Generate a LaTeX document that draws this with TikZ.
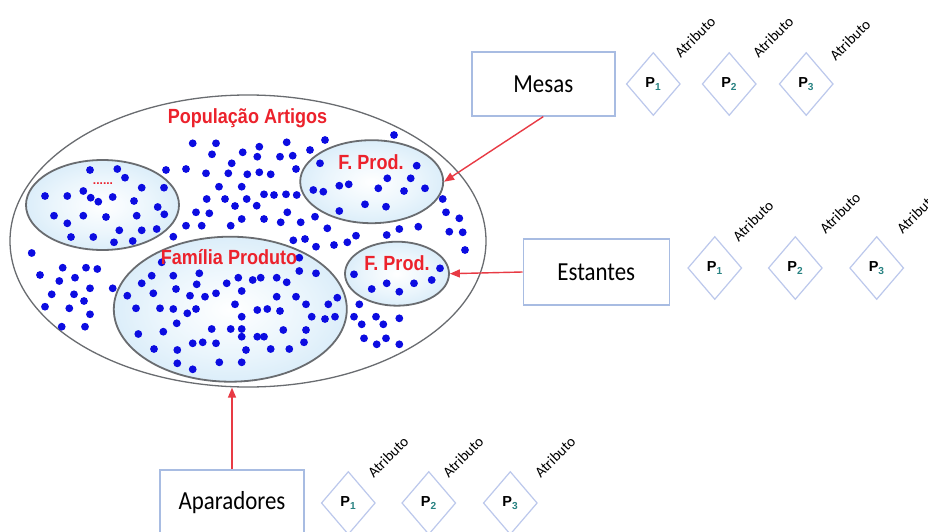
\documentclass[tikz,border=0pt]{standalone}
\usepackage{fontspec}
\setmainfont{Carlito}
\newfontfamily\boxfont[FakeStretch=0.88]{Carlito}
\newfontfamily\labelfont[FakeStretch=0.88]{Liberation Sans}
\newfontfamily\gemfont{Liberation Sans}
\usetikzlibrary{shapes.geometric,arrows.meta}

\definecolor{dotblue}{RGB}{12,12,225}
\definecolor{tagred}{RGB}{236,34,44}
\definecolor{arrowred}{RGB}{232,58,68}
\definecolor{rimgrey}{RGB}{105,108,112}
\definecolor{boxblue}{RGB}{168,188,226}
\definecolor{gemblue}{RGB}{188,200,236}
\definecolor{subteal}{RGB}{40,130,130}
\definecolor{paleblue}{RGB}{234,245,252}
\definecolor{skyblue}{RGB}{180,217,242}
\pgfdeclareradialshading{famshade}{\pgfpoint{0bp}{0bp}}{color(0bp)=(white); color(16bp)=(paleblue); color(50bp)=(skyblue); color(72bp)=(skyblue)}

\newcommand{\pidx}[1]{P\textsubscript{\color{subteal}#1}}

\tikzset{
  popshape/.style={ellipse, draw=rimgrey, line width=1.3pt, inner sep=0pt},
  famshape/.style={ellipse, draw=rimgrey, line width=1.8pt, inner sep=0pt, shade, shading=famshade},
  tag/.style={text=tagred, inner sep=0pt, font={\labelfont\bfseries\fontsize{20.5}{22}\selectfont}},
  catbox/.style={draw=boxblue, line width=1.6pt, fill=white, inner sep=0pt, font={\boxfont\fontsize{26}{28}\selectfont}},
  gem/.style={diamond, draw=gemblue, line width=1.2pt, minimum width=54pt, minimum height=63pt, inner sep=0pt, font={\gemfont\bfseries\fontsize{14.5}{16}\selectfont}},
  attr/.style={rotate=45, inner sep=0pt, font={\fontsize{15}{17}\selectfont}},
  link/.style={draw=arrowred, line width=1.4pt, -{Triangle[length=10pt,width=8pt]}},
  blob/.style={fill=dotblue}
}

\begin{document}
\begin{tikzpicture}[x=1pt,y=-1pt]
\useasboundingbox (0,0) rectangle (928,532);
\fill[white] (0,0) rectangle (928,532);

% population and the product families inside it
\node[popshape, minimum width=476pt, minimum height=292pt] (pop) at (248,241) {};
\node[famshape, minimum width=153pt, minimum height=90pt] (fam0) at (102.5,205) {};
\node[famshape, minimum width=233pt, minimum height=145pt] (fam) at (230.3,309.2) {};
\node[famshape, minimum width=143pt, minimum height=83pt] (fp1) at (371.7,181.7) {};
\node[famshape, minimum width=104pt, minimum height=64pt] (fp2) at (397,273.7) {};

% items of the population
\foreach \px/\py in {
 192.7/143.3, 216/143.3, 212/154.3, 242.7/152.3, 231.7/163.3, 166/170, 186/169, 206/173.3,
 228.3/173.3, 247.3/174.3, 90/170, 117.3/169, 125/177.7, 141.7/187.7, 164/187.7, 219/186.7,
 241.7/186.7, 45/196, 67.3/196, 83.3/191, 90.7/197.7, 98.3/201.7, 112.7/197, 134/201,
 206.7/199, 225/199, 246.7/199, 235/206, 157.7/207, 164.3/214.3, 196/212.3, 209.3/213.3,
 54/215.7, 83.3/215.7, 106/217, 136.7/215.7, 241.7/219, 67.3/223.3, 186/225.7, 201.7/225.7,
 230.7/225.7, 71/237, 93.3/237, 119.3/230.3, 141.7/230.3, 156.7/229, 173.3/236.7, 114/242.3,
 132.7/241, 31.7/253,
 259.3/146.7, 257.3/156.7, 286.7/142.3, 280/156.7, 292.7/155.7, 310/150, 325/140, 394/135,
 296/169, 259.3/172.3, 270.7/174.3, 320/163.3, 416.7/165.7, 387.3/178.3, 410.7/178.3,
 339.3/185.7, 348.7/184.3, 313.3/190, 323.3/191.7, 378.3/188.3, 404/191, 425/188.3,
 264/194.3, 274/195, 286/194.3, 296.7/195, 442.7/199, 365/204.3, 386/206.7, 339.3/211,
 256.7/205.7, 287.3/212.3, 315/216.7, 264/219, 280.7/222.3, 300.7/222.3, 446/212.3,
 459.3/218.3, 327.3/228.3, 399.3/229, 418.3/226.7, 386.7/235, 449.3/231.7, 462.7/232.3,
 356/235.7, 293.3/240.3, 305/239, 347.3/242.3, 334/245, 316/246.7, 465/250,
 161.7/262.3, 40/275, 62.7/267.7, 86/267.7, 97.3/269, 59.3/281, 75/277.7, 90/288.3,
 112.7/288.3, 51.7/294.3, 74/294.3, 84/301, 45/306.7, 69.3/308.3, 90/314.3, 61.7/326.7,
 85/326.7, 141.7/283.3, 151.7/275.7, 173.3/275.7, 199.3/273.3, 196.7/284.3, 127.3/295.7,
 153.3/293.3, 176/289, 190/295.7, 205/296.7, 216/293.3, 226.7/283.3, 238.3/277.7,
 241.7/291, 136/308.3, 160/308.3, 173.3/309, 187.3/313.3, 196/309, 235/304.3, 241.7/316.7,
 176.7/323.3, 138.3/334, 163.3/331.7, 211.7/329, 230.7/329, 241.7/329, 241.7/336.7,
 192.7/343.3, 202.7/342.3, 216/343.3, 154/349, 177.3/350, 246/350, 177.3/363.3,
 192.7/369.3, 219.3/362.3, 241.7/362.3,
 299.3/257.7, 299.3/271, 316/273.3, 252.7/280, 260.7/277.7, 276.7/277.7, 286.7/282.3,
 276.7/296.7, 296/296.7, 306/304.3, 328.3/304.3, 337.3/297.7, 257.3/310, 267.3/309,
 280/311, 311.7/316.7, 325/319, 335/316.7, 283.3/330, 306/330, 257.3/336.7, 264/336.7,
 304/342.3, 270.7/349, 289.3/349, 354/274.3, 371.7/289, 386.7/283.3, 399.3/291.7,
 414/283.3, 431.7/280, 440/268.3, 359.3/304.3, 354/316.7, 376/316.7, 361.7/324.3,
 383.3/324.3, 399.3/318.3, 364/338.3, 386/338.3, 376.7/344.3, 399.3/344.3}
  \fill[blob] (\px,\py) circle[radius=3.9pt];

% group labels
\node[tag] (poptitle) at (247.5,118) {População Artigos};
\node[tag] (famtitle) at (229,257) {Família Produto};
\node[tag] (fp1title) at (371,162) {F. Prod.};
\node[tag] (fp2title) at (397,263) {F. Prod.};
\node[text=tagred, inner sep=0pt, font={\gemfont\bfseries\fontsize{12}{12}\selectfont}] (fam0title) at (103,184) {......};

% categories
\node[catbox, minimum width=143pt, minimum height=64pt] (mesas) at (543.3,83.8) {Mesas};
\node[catbox, minimum width=146pt, minimum height=66pt] (estantes) at (596.3,272) {Estantes};
\node[catbox, minimum width=144pt, minimum height=66pt] (aparadores) at (232,503) {Aparadores};

% attributes of Mesas
\node[gem] (m1) at (653.3,84) {\pidx{1}};
\node[gem] (m2) at (729.2,84) {\pidx{2}};
\node[gem] (m3) at (806.2,84) {\pidx{3}};
\node[attr] (ma1) at (695,37) {Atributo};
\node[attr] (ma2) at (773,37) {Atributo};
\node[attr] (ma3) at (850,40) {Atributo};

% attributes of Estantes
\node[gem] (e1) at (714.8,268) {\pidx{1}};
\node[gem] (e2) at (795.3,268) {\pidx{2}};
\node[gem] (e3) at (876.7,268) {\pidx{3}};
\node[attr] (ea1) at (753,221) {Atributo};
\node[attr] (ea2) at (840,213) {Atributo};
\node[attr] (ea3) at (917,213) {Atributo};

% attributes of Aparadores
\node[gem] (a1) at (348.3,503) {\pidx{1}};
\node[gem] (a2) at (428.8,503) {\pidx{2}};
\node[gem] (a3) at (510.3,503) {\pidx{3}};
\node[attr] (aa1) at (388,457) {Atributo};
\node[attr] (aa2) at (463,457) {Atributo};
\node[attr] (aa3) at (555,457) {Atributo};

% category links
\draw[link] (mesas.south) -- (fp1.east);
\draw[link] (estantes.west) -- (fp2.east);
\draw[link] (aparadores.north) -- (aparadores.north |- pop.south);
\end{tikzpicture}
\end{document}
